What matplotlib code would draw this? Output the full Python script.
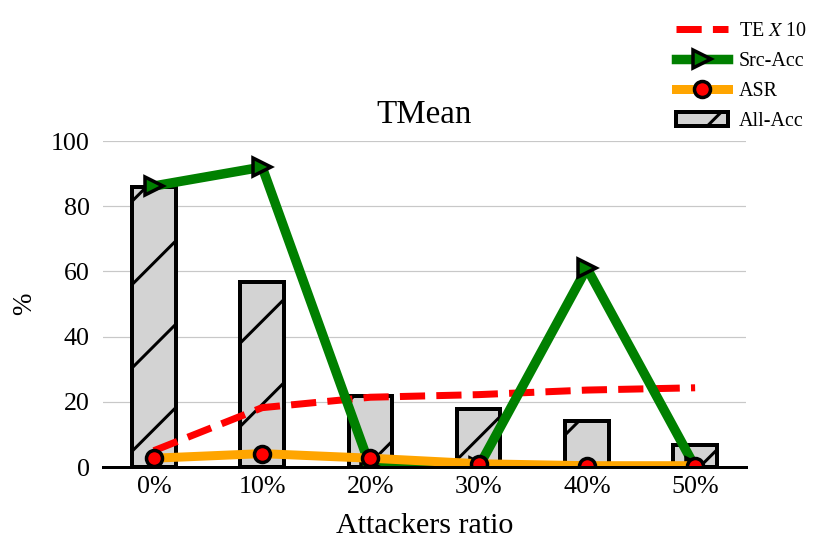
import numpy as np
import matplotlib
matplotlib.use("Agg")
import matplotlib.pyplot as plt

# Data
ratios = ["0%", "10%", "20%", "30%", "40%", "50%"]
all_acc = [85.9, 56.7, 21.8, 17.8, 14.1, 6.7]
src_acc = [86.2, 92.0, 0.0, 0.0, 61.0, 0.0]
asr = [2.7, 4.1, 2.7, 1.0, 0.4, 0.4]
te_x10 = [5.0, 18.2, 21.4, 22.2, 23.6, 24.3]

# render at a raised dpi so the hatch gets sparse; sizes given in pixels
DPI = 250
P = 72 / DPI  # points per pixel

plt.rcParams["font.family"] = ["Liberation Serif", "DejaVu Serif"]
plt.rcParams["mathtext.fontset"] = "stix"
plt.rcParams["hatch.linewidth"] = 3 * P

fig = plt.figure(figsize=(830 / DPI, 555 / DPI), dpi=DPI)
ax = fig.add_axes([103 / 830, 1 - 467 / 555, (746 - 103) / 830, (467 - 141) / 555])

x = np.arange(len(ratios))

ax.plot(x, te_x10, color="red", lw=7 * P, dashes=(3.6, 1.6), label="TE $X$ 10")
ax.plot(x, src_acc, color="green", lw=9.5 * P, marker=">", ms=19 * P,
        mfc="green", mec="black", mew=3.5 * P, label="Src-Acc")
ax.plot(x, asr, color="orange", lw=9 * P, marker="o", ms=16 * P,
        mfc="red", mec="black", mew=3.5 * P, label="ASR")
ax.bar(x, all_acc, width=0.4, color="lightgrey", edgecolor="black",
       linewidth=4 * P, hatch="/", label="All-Acc")

ax.set_ylim(0, 100)
ax.set_yticks([0, 20, 40, 60, 80, 100])
ax.set_xticks(x)
ax.set_xticklabels(ratios)
ax.tick_params(axis="both", length=0, labelsize=26 * P)
ax.tick_params(axis="y", pad=13 * P)
ax.tick_params(axis="x", pad=9 * P)
ax.grid(axis="y", color="#c8c8c8", lw=1.2 * P)
ax.set_axisbelow(True)

for s in ["left", "right", "top"]:
    ax.spines[s].set_visible(False)
ax.spines["bottom"].set_linewidth(3 * P)

ax.set_title("TMean", fontsize=33 * P, pad=18 * P)
ax.set_xlabel("Attackers ratio", fontsize=30 * P, labelpad=15 * P)
ax.set_ylabel("%", fontsize=27 * P, labelpad=14 * P)

fig.legend(loc="upper left", bbox_to_anchor=(676 / 830, 1 - 22 / 555),
           frameon=False, fontsize=20 * P, handlelength=2.6,
           handletextpad=0.55, labelspacing=0.55, borderpad=0, borderaxespad=0)

fig.savefig("out.png", dpi=DPI)
